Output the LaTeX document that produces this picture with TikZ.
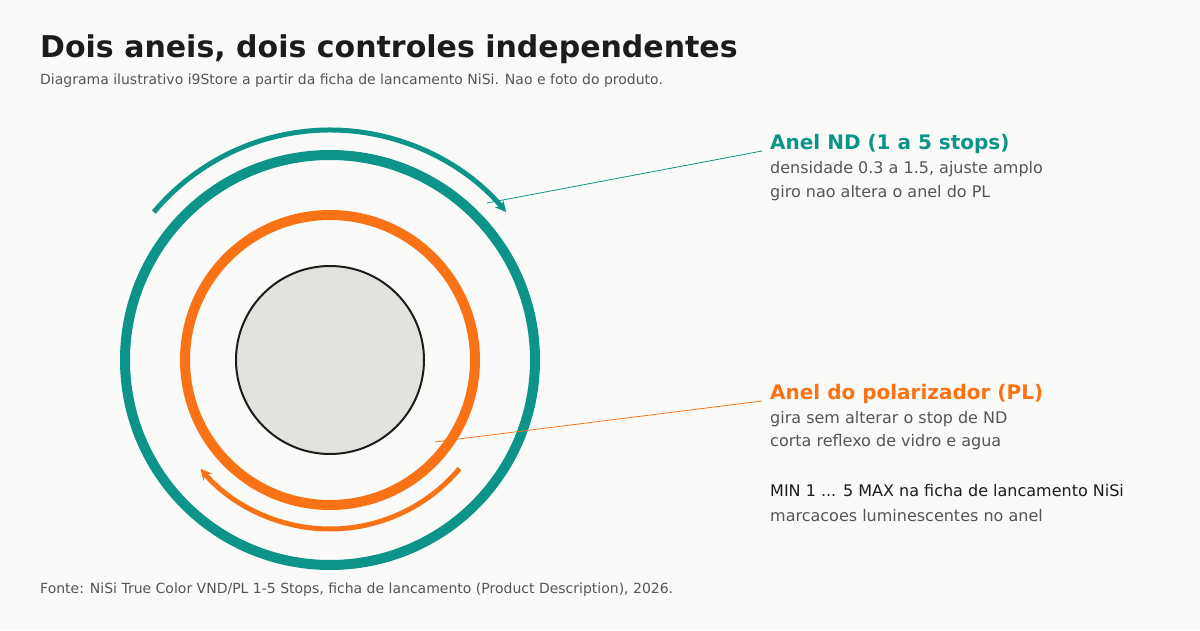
\documentclass[tikz,border=0pt]{standalone}
\usepackage{fontspec}
\setmainfont{DejaVu Sans}
\usetikzlibrary{arrows.meta,positioning}
\definecolor{ringteal}{RGB}{13,148,136}
\definecolor{ringorange}{RGB}{249,115,22}
\definecolor{lensgray}{RGB}{226,226,222}
\definecolor{bgpaper}{RGB}{250,250,248}
\definecolor{textgray}{RGB}{85,85,85}
\definecolor{textdark}{RGB}{28,28,28}

\tikzset{
  heading/.style={anchor=base west,inner sep=0pt,font=\fontsize{20}{23}\selectfont\bfseries},
  detail/.style={anchor=base west,inner sep=0pt,text=textgray,font=\fontsize{16}{19}\selectfont},
  leader/.style={line width=0.8pt}
}

\begin{document}
\begin{tikzpicture}[x=1pt,y=1pt,>=Stealth]

  % Fundo
  \fill[bgpaper] (0,0) rectangle (1200,630);
  \useasboundingbox (0,0) rectangle (1200,630);

  % Titulo e subtitulo
  \node[anchor=base west,inner sep=0pt,text=textdark,font=\fontsize{30}{34}\selectfont\bfseries]
    (title) at (40,572) {Dois aneis, dois controles independentes};
  \node[anchor=base west,inner sep=0pt,text=textgray,font=\fontsize{14}{16}\selectfont]
    (subtitle) at (40,545) {Diagrama ilustrativo i9Store a partir da ficha de lancamento NiSi. Nao e foto do produto.};

  %-------------------- Aneis --------------------
  \begin{scope}[shift={(330,270)}]
    % Anel ND
    \draw[ringteal,line width=10pt] (0,0) circle (205);
    % Seta de giro do ND
    \draw[ringteal,line width=5pt,-{Stealth[length=11pt,width=11pt]}]
      (140:230) arc[start angle=140,end angle=40,radius=230];

    % Anel do polarizador
    \draw[ringorange,line width=10pt] (0,0) circle (145);
    % Seta de giro do PL
    \draw[ringorange,line width=5pt,-{Stealth[length=11pt,width=11pt]}]
      (320:169) arc[start angle=320,end angle=220,radius=169];

    % Vidro
    \draw[textdark,line width=2pt,fill=lensgray] (0,0) circle (94);
  \end{scope}

  % Pontos das linhas de chamada
  \coordinate (ndtip) at (487,427);
  \coordinate (pltip) at (435,188);

  %-------------------- Textos --------------------
  \node[heading,text=ringteal] (ndhead) at (770,480) {Anel ND (1 a 5 stops)};
  \node[detail] (ndline1) at (770,456) {densidade 0.3 a 1.5, ajuste amplo};
  \node[detail] (ndline2) at (770,432) {giro nao altera o anel do PL};

  \node[heading,text=ringorange] (plhead) at (770,230) {Anel do polarizador (PL)};
  \node[detail] (plline1) at (770,207) {gira sem alterar o stop de ND};
  \node[detail] (plline2) at (770,183) {corta reflexo de vidro e agua};

  \node[detail,text=textdark] (marks) at (770,134) {MIN 1 ... 5 MAX na ficha de lancamento NiSi};
  \node[detail] (glow) at (770,109) {marcacoes luminescentes no anel};

  % Linhas de chamada
  \draw[leader,ringteal] ([xshift=-8pt,yshift=-1pt]ndhead.base west) -- (ndtip);
  \draw[leader,ringorange] ([xshift=-8pt,yshift=-1pt]plhead.base west) -- (pltip);

  % Fonte
  \node[anchor=base west,inner sep=0pt,text=textgray,font=\fontsize{14}{16}\selectfont]
    (source) at (40,37) {Fonte: NiSi True Color VND/PL 1-5 Stops, ficha de lancamento (Product Description), 2026.};

\end{tikzpicture}
\end{document}
